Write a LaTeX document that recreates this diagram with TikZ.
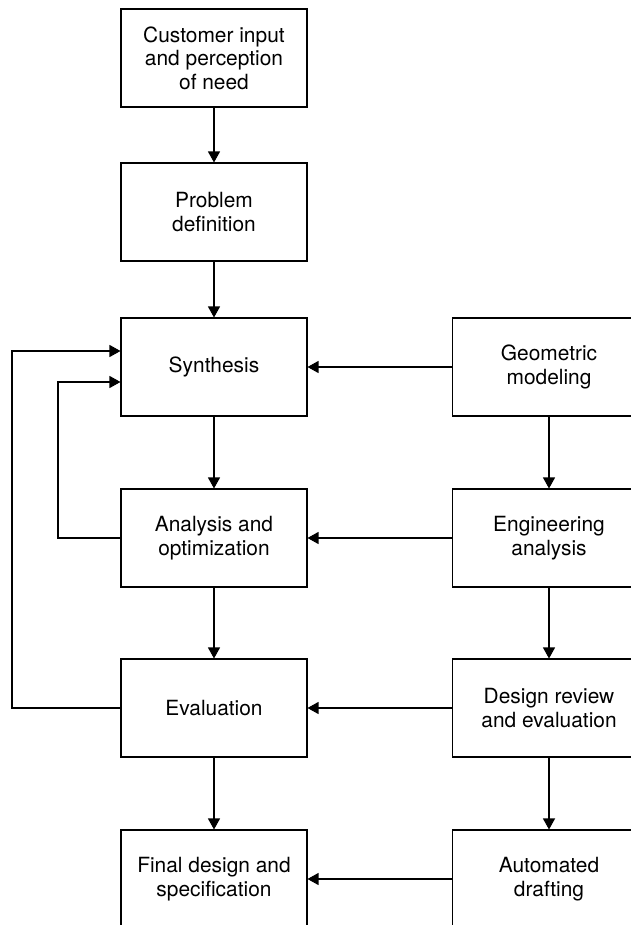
\documentclass[tikz,border=0pt]{standalone}
\usepackage{fontspec}
\setmainfont{TeX Gyre Heros}
\usetikzlibrary{arrows.meta}
\tikzset{
  blk/.style={draw, line width=0.6pt, minimum width=3.72cm, minimum height=1.96cm,
    align=center, inner sep=0pt, font=\fontsize{11.9}{13.4}\selectfont},
  blkr/.style={blk, minimum width=3.86cm},
  flow/.style={line width=0.6pt, -{Triangle[length=2.2mm,width=2.4mm]}}
}
\begin{document}
\begin{tikzpicture}[x=0.02cm,y=-0.02cm]
\useasboundingbox (0,0) rectangle (630,925);
% design process
\node[blk] (cust) at (214,58) {Customer input\\and perception\\of need};
\node[blk] (prob) at (214,212) {Problem\\definition};
\node[blk] (syn) at (214,367) {Synthesis};
\node[blk] (ana) at (214,538) {Analysis and\\optimization};
\node[blk] (eva) at (214,708) {Evaluation};
\node[blk] (fin) at (214,879) {Final design and\\specification};
% CAD side
\node[blkr] (geo) at (549,367) {Geometric\\modeling};
\node[blkr] (eng) at (549,538) {Engineering\\analysis};
\node[blkr] (rev) at (549,708) {Design review\\and evaluation};
\node[blkr] (dra) at (549,879) {Automated\\drafting};
\coordinate (outer) at (12,0);
\coordinate (inner) at (58,0);
\draw[flow] (cust) -- (prob);
\draw[flow] (prob) -- (syn);
\draw[flow] (syn) -- (ana);
\draw[flow] (ana) -- (eva);
\draw[flow] (eva) -- (fin);
\draw[flow] (geo) -- (eng);
\draw[flow] (eng) -- (rev);
\draw[flow] (rev) -- (dra);
\draw[flow] (geo) -- (syn);
\draw[flow] (eng) -- (ana);
\draw[flow] (rev) -- (eva);
\draw[flow] (dra) -- (fin);
% feedback loops
\draw[flow] (eva.west) -- (outer |- eva.west) |- ([yshift=0.32cm]syn.west);
\draw[flow] (ana.west) -- (inner |- ana.west) |- ([yshift=-0.3cm]syn.west);
\end{tikzpicture}
\end{document}
